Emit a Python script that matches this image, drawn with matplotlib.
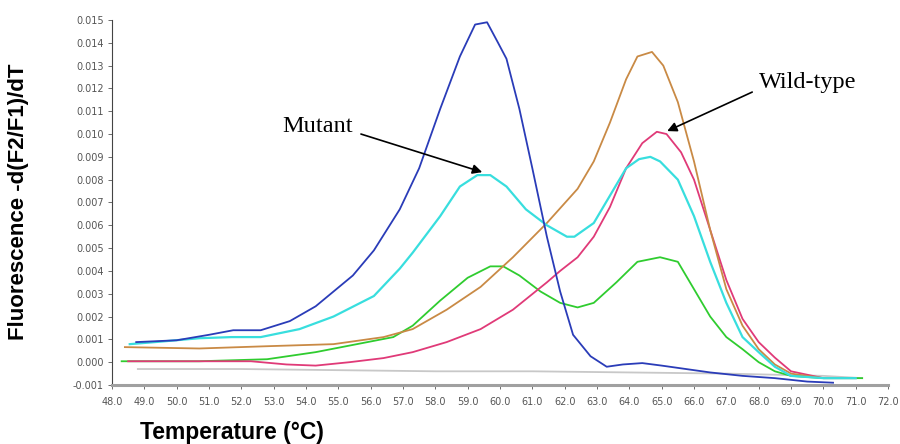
import matplotlib
matplotlib.use("Agg")
import matplotlib.pyplot as plt
import numpy as np

# ---- data ----
T_blue = [48.75, 50.0, 51.0, 51.75, 52.6, 53.5, 54.3, 55.45, 56.1, 56.9, 57.5, 58.15, 58.76, 59.23,
          59.6, 59.94, 60.2, 60.6, 61.0, 61.45, 61.86, 62.26, 62.8, 63.3, 63.8, 64.4, 65.0, 65.5,
          66.5, 67.5, 68.5, 69.5, 70.3]
v_blue = [0.00088, 0.00096, 0.0012, 0.0014, 0.0014, 0.0018, 0.00245, 0.0038, 0.0049, 0.0067, 0.0085,
          0.0111, 0.0134, 0.0148, 0.0149, 0.0140, 0.0133, 0.0111, 0.0085, 0.0055, 0.0031, 0.0012,
          0.00026, -0.0002, -0.0001, -0.00004, -0.00015, -0.00025, -0.00045, -0.0006, -0.0007,
          -0.00085, -0.0009]

T_cyan = [48.55, 49.5, 50.7, 51.7, 52.6, 53.8, 54.85, 56.1, 56.9, 57.3, 58.15, 58.76, 59.3, 59.7,
          60.2, 60.8, 61.45, 62.07, 62.3, 62.9, 63.4, 63.9, 64.3, 64.65, 64.95, 65.5, 66.0, 66.5,
          67.0, 67.5, 68.0, 68.5, 69.0, 70.0, 71.0]
v_cyan = [0.00079, 0.0009, 0.00105, 0.0011, 0.0011, 0.00145, 0.002, 0.0029, 0.0041, 0.0048, 0.0064,
          0.0077, 0.0082, 0.0082, 0.0077, 0.0067, 0.006, 0.0055, 0.0055, 0.0061, 0.0073, 0.0085,
          0.0089, 0.009, 0.0088, 0.008, 0.0064, 0.0044, 0.0026, 0.0011, 0.00044, -0.0002, -0.0006,
          -0.0007, -0.0007]

T_green = [48.3, 50.7, 52.8, 54.3, 55.9, 56.7, 57.3, 58.15, 59.0, 59.7, 60.1, 60.6, 61.25, 61.86,
           62.4, 62.9, 63.6, 64.25, 64.95, 65.5, 66.0, 66.5, 67.0, 67.5, 68.0, 68.5, 69.0, 70.0, 71.2]
v_green = [0.00004, 0.00004, 0.00013, 0.00044, 0.00088, 0.0011, 0.0016, 0.0027, 0.0037, 0.0042,
           0.0042, 0.0038, 0.0031, 0.0026, 0.0024, 0.0026, 0.0035, 0.0044, 0.0046, 0.0044, 0.0032,
           0.002, 0.0011, 0.00057, 0.0, -0.0004, -0.0006, -0.0007, -0.0007]

T_orange = [48.4, 50.7, 52.8, 54.85, 56.4, 57.3, 58.35, 59.4, 60.4, 61.45, 62.4, 62.9, 63.4, 63.9,
            64.25, 64.7, 65.05, 65.5, 66.0, 66.5, 67.0, 67.5, 68.0, 68.5, 69.0, 70.0, 71.0]
v_orange = [0.00066, 0.0006, 0.0007, 0.00079, 0.0011, 0.00145, 0.0023, 0.0033, 0.0046, 0.0061,
            0.0076, 0.0088, 0.0105, 0.0124, 0.0134, 0.0136, 0.013, 0.0114, 0.0088, 0.0058, 0.0032,
            0.0016, 0.00057, -0.0001, -0.0005, -0.0007, -0.0007]

T_pink = [48.5, 50.5, 52.3, 53.4, 54.3, 55.35, 56.4, 57.3, 58.35, 59.4, 60.4, 61.45, 61.86, 62.4,
          62.9, 63.4, 63.9, 64.4, 64.85, 65.15, 65.6, 66.0, 66.5, 67.0, 67.5, 68.0, 68.5, 69.0,
          70.0, 71.0]
v_pink = [0.00004, 0.00004, 0.00004, -0.0001, -0.00015, 0.0, 0.00018, 0.00044, 0.00088, 0.00145,
          0.0023, 0.0035, 0.0040, 0.0046, 0.0055, 0.0068, 0.0085, 0.0096, 0.0101, 0.01, 0.0092,
          0.008, 0.0058, 0.0036, 0.0019, 0.00088, 0.0002, -0.0004, -0.0007, -0.0007]

T_gray = [48.8, 52.0, 55.0, 58.0, 61.0, 64.0, 67.0, 70.0, 71.2]
v_gray = [-0.0003, -0.0003, -0.00035, -0.0004, -0.0004, -0.00045, -0.0005, -0.0006, -0.0007]

x_ticks = np.arange(48.0, 72.01, 1.0)
y_ticks = np.arange(-0.001, 0.01501, 0.001)

# annotation anchors (data coordinates)
mutant_text = (55.45, 0.0101)
mutant_tail = (55.7, 0.0100)
mutant_head = (59.45, 0.00833)
wild_text = (68.0, 0.0120)
wild_tail = (67.8, 0.01184)
wild_head = (65.17, 0.01013)

# ---- figure ----
fig = plt.figure(figsize=(9, 4.44), dpi=100)
ax = fig.add_axes([0.1244, 0.1329, 0.8623, 0.8221])

lw = 1.3
ax.plot(T_gray, v_gray, color="#c8c8c8", lw=lw)
ax.plot(T_green, v_green, color="#2fcc2f", lw=lw)
ax.plot(T_pink, v_pink, color="#e03a78", lw=lw)
ax.plot(T_orange, v_orange, color="#c98a45", lw=lw)
ax.plot(T_cyan, v_cyan, color="#38dede", lw=lw + 0.3)
ax.plot(T_blue, v_blue, color="#2a3cb8", lw=lw)

ax.set_xlim(48.0, 72.0)
ax.set_ylim(-0.001, 0.015)
ax.set_xticks(x_ticks)
ax.set_xticklabels([f"{t:.1f}" for t in x_ticks])
ax.set_yticks(y_ticks)
ax.set_yticklabels([f"{v:.3f}" for v in y_ticks])

for s in ("top", "right"):
    ax.spines[s].set_visible(False)
ax.spines["left"].set_color("#444444")
ax.spines["left"].set_linewidth(0.8)
ax.spines["bottom"].set_color("#a0a0a0")
ax.spines["bottom"].set_linewidth(2.2)

ax.tick_params(axis="both", labelsize=7, labelcolor="#555555", color="#555555",
               length=3, width=0.6)
ax.tick_params(axis="y", pad=3)
ax.tick_params(axis="x", pad=6)

fig.text(0.021, 0.545, "Fluorescence -d(F2/F1)/dT", rotation=90, ha="center", va="center",
         fontsize=16, fontweight="bold", family="Liberation Sans")
fig.text(0.155, 0.027, "Temperature (°C)", ha="left", va="center",
         fontsize=16.5, fontweight="bold", family="Liberation Sans")

ax.text(*mutant_text, "Mutant", fontsize=17.5, family="Liberation Serif",
        ha="right", va="baseline")
ax.annotate("", xy=mutant_head, xytext=mutant_tail,
            arrowprops=dict(arrowstyle="-|>", color="black", lw=1.2, mutation_scale=14,
                            shrinkA=0, shrinkB=0))
ax.text(*wild_text, "Wild-type", fontsize=17.5, family="Liberation Serif",
        ha="left", va="baseline")
ax.annotate("", xy=wild_head, xytext=wild_tail,
            arrowprops=dict(arrowstyle="-|>", color="black", lw=1.2, mutation_scale=14,
                            shrinkA=0, shrinkB=0))

fig.savefig("out.png", dpi=100)
